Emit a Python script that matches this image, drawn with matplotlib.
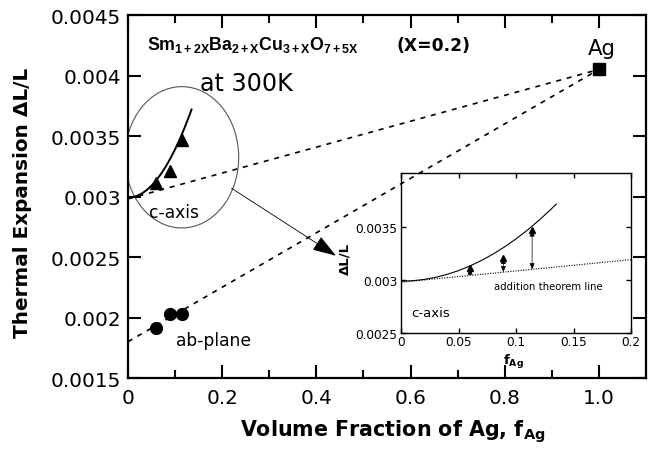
import numpy as np
import matplotlib
matplotlib.use("Agg")
import matplotlib.pyplot as plt
from matplotlib.patches import Ellipse

plt.rcParams['font.family'] = ['DejaVu Sans']
plt.rcParams['mathtext.fontset'] = 'dejavusans'
plt.rcParams['mathtext.rm'] = 'Liberation Sans'
plt.rcParams['mathtext.bf'] = 'Liberation Sans:bold'
plt.rcParams['mathtext.it'] = 'Liberation Sans:italic'

# ---------------- data ----------------
f_caxis = [0.060, 0.089, 0.114]
dl_caxis = [0.00311, 0.00321, 0.00347]

f_ab = [0.060, 0.089, 0.114]
dl_ab = [0.00191, 0.00203, 0.00203]

f_ag = [1.0]
dl_ag = [0.00405]

# addition-theorem (dashed) lines: from pure oxide (f=0) to Ag (f=1)
f_line = [0.0, 1.0]
dl_line_c = [0.00298, 0.00405]
dl_line_ab = [0.00180, 0.00405]

# smooth c-axis curve (read points)
f_curve = [0.0, 0.01, 0.02, 0.03, 0.04, 0.05, 0.06, 0.07, 0.08, 0.09,
           0.10, 0.11, 0.12, 0.13, 0.135]
dl_curve = [0.002990, 0.002994, 0.003006, 0.003026, 0.003054, 0.003090,
            0.003134, 0.003186, 0.003246, 0.003314, 0.003390, 0.003474,
            0.003566, 0.003666, 0.003719]

main_xticks = [0.0, 0.2, 0.4, 0.6, 0.8, 1.0]
main_xticklabels = ["0", "0.2", "0.4", "0.6", "0.8", "1.0"]
main_yticks = [0.0015, 0.002, 0.0025, 0.003, 0.0035, 0.004, 0.0045]
main_yticklabels = ["0.0015", "0.002", "0.0025", "0.003", "0.0035", "0.004", "0.0045"]

inset_xticks = [0.0, 0.05, 0.1, 0.15, 0.2]
inset_xticklabels = ["0", "0.05", "0.1", "0.15", "0.2"]
inset_yticks = [0.0025, 0.003, 0.0035]
inset_yticklabels = ["0.0025", "0.003", "0.0035"]

# ---------------- figure ----------------
fig = plt.figure(figsize=(6.51, 4.52), dpi=100)
ax = fig.add_axes([0.1966, 0.1615, 0.7957, 0.8031])

ax.set_xlim(0, 1.1)
ax.set_ylim(0.0015, 0.0045)

dash = (0, (3.0, 3.5))
ax.plot(f_line, dl_line_c, color='black', lw=1.2, linestyle=dash)
ax.plot(f_line, dl_line_ab, color='black', lw=1.2, linestyle=dash)
ax.plot(f_curve, dl_curve, color='black', lw=1.4)
ax.plot(f_caxis, dl_caxis, linestyle='none', marker='^', ms=8.5, color='black')
ax.plot(f_ab, dl_ab, linestyle='none', marker='o', ms=8.5, color='black')
ax.plot(f_ag, dl_ag, linestyle='none', marker='s', ms=9, color='black')

ell = Ellipse((0.1144, 0.003324), 0.2414, 0.001168, fill=False,
              edgecolor='#555555', lw=0.8)
ax.add_patch(ell)
ax.annotate("", xy=(0.4416, 0.002511), xytext=(0.220, 0.003068),
            arrowprops=dict(arrowstyle='-|>,head_length=1.5,head_width=0.5',
                            color='black', lw=0.6, shrinkA=0, shrinkB=0))

ax.set_xticks(main_xticks)
ax.set_xticklabels(main_xticklabels)
ax.set_xticks(np.arange(0.1, 1.1, 0.2), minor=True)
ax.set_yticks(main_yticks)
ax.set_yticklabels(main_yticklabels)
ax.tick_params(which='both', direction='in', top=True, right=True, width=1.5,
               labelsize=14.4)
ax.tick_params(which='major', length=9.5)
ax.tick_params(which='minor', length=5.8)
ax.tick_params(axis='y', pad=5)
ax.tick_params(axis='x', pad=7)
for s in ax.spines.values():
    s.set_linewidth(1.6)

ax.text(0.0395, 0.004219, r'$\mathbf{Sm_{1+2X}Ba_{2+X}Cu_{3+X}O_{7+5X}}$',
        fontsize=12.8, ha='left', va='baseline', math_fontfamily='custom')
ax.text(0.5705, 0.004207, '(X=0.2)', fontsize=12.3, fontweight='bold',
        ha='left', va='baseline')
ax.text(0.1529, 0.003883, 'at 300K', fontsize=17.2, ha='left', va='baseline')
ax.text(1.006, 0.004178, 'Ag', fontsize=15.3, ha='center', va='baseline')
ax.text(0.0452, 0.002828, 'c-axis', fontsize=12.3, ha='left', va='baseline')
ax.text(0.1019, 0.001769, 'ab-plane', fontsize=12.3, ha='left', va='baseline')

fig.text(0.0338, 0.552, 'Thermal Expansion \u0394L/L', fontsize=14.4,
         fontweight='bold', rotation=90, ha='center', va='center')
fig.text(0.3687, 0.0339, r'Volume Fraction of Ag, $\mathbf{f_{Ag}}$',
         fontsize=14.9, fontweight='bold', ha='left', va='baseline')

# ---------------- inset ----------------
axin = fig.add_axes([0.616, 0.2611, 0.3533, 0.3532])
axin.patch.set_alpha(0.0)
axin.set_xlim(0, 0.2)
axin.set_ylim(0.0025, 0.00401)
axin.plot(f_line, dl_line_c, color='black', lw=0.8, linestyle=(0, (1.0, 1.3)))
axin.plot(f_curve, dl_curve, color='black', lw=0.8)
axin.plot(f_caxis, dl_caxis, linestyle='none', marker='^', ms=5, color='black')
for fx, fy in zip(f_caxis, dl_caxis):
    base = np.interp(fx, f_line, dl_line_c)
    axin.annotate("", xy=(fx, base), xytext=(fx, fy),
                  arrowprops=dict(arrowstyle='<|-|>,head_length=0.35,head_width=0.15',
                                  color='black', lw=0.5, shrinkA=0, shrinkB=0))
axin.set_xticks(inset_xticks)
axin.set_xticklabels(inset_xticklabels)
axin.set_yticks(inset_yticks)
axin.set_yticklabels(inset_yticklabels)
axin.tick_params(direction='in', top=True, right=True, length=3.6, width=1.0,
                 labelsize=8.7)
axin.tick_params(axis='x', pad=1.5)
axin.tick_params(axis='y', pad=2.5)
for s in axin.spines.values():
    s.set_linewidth(1.0)
axin.text(0.0093, 0.00266, 'c-axis', fontsize=9.5, ha='left', va='baseline')
axin.text(0.0811, 0.002912, 'addition theorem line', fontsize=7.3,
          ha='left', va='baseline')

fig.text(345 / 651, 0.427, '\u0394L/L', fontsize=9.5, fontweight='bold',
         rotation=90, ha='center', va='center')
fig.text(503 / 651, 0.1925, r'$\mathbf{f_{Ag}}$', fontsize=9.5,
         ha='left', va='baseline')

fig.savefig('out.png', dpi=100)
